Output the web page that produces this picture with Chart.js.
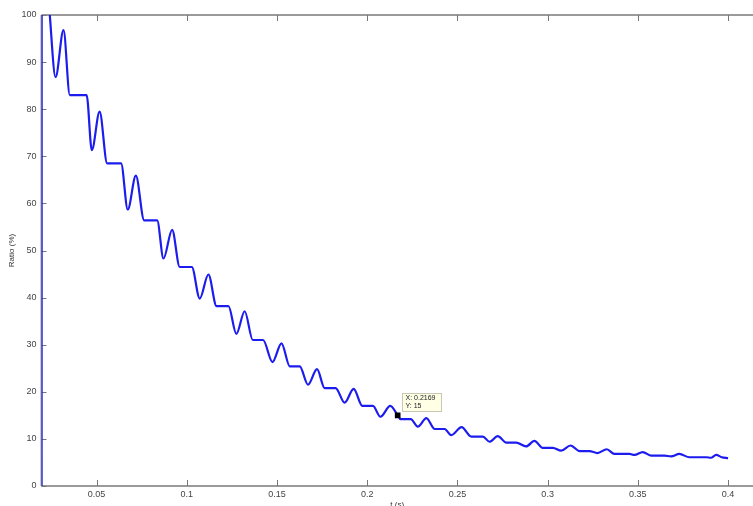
<!DOCTYPE html>
<html>
<head>
<meta charset="utf-8">
<script src="https://cdn.jsdelivr.net/npm/chart.js@4.4.1/dist/chart.umd.min.js"></script>
<style>
    html, body { margin: 0; padding: 0; background: #fff; }
    #wrap { width: 753px; height: 506px; }
</style>
</head>
<body>
<div id="wrap"><canvas id="ratioChart" width="753" height="506"></canvas></div>
<script>
// values: time (s) and ratio (%)
const timeSec = [
    0.0195, 0.0196, 0.0241, 0.0273, 0.0317, 0.0352, 0.0445, 0.0474, 0.0517, 0.0559,
    0.0636, 0.0673, 0.0718, 0.0764, 0.0836, 0.0871, 0.0919, 0.0961, 0.1028, 0.1072,
    0.1120, 0.1165, 0.1231, 0.1275, 0.1321, 0.1366, 0.1423, 0.1475, 0.1525, 0.1571,
    0.1626, 0.1672, 0.1722, 0.1764, 0.1825, 0.1875, 0.1925, 0.1973, 0.2032, 0.2073,
    0.2128, 0.2169, 0.2185, 0.2241, 0.2281, 0.2328, 0.2374, 0.2429, 0.2466, 0.2523,
    0.2577, 0.2641, 0.2678, 0.2724, 0.2771, 0.2826, 0.2881, 0.2927, 0.2973, 0.3029,
    0.3075, 0.3127, 0.3177, 0.3232, 0.3276, 0.3328, 0.3370, 0.3454, 0.3481, 0.3527,
    0.3575, 0.3647, 0.3684, 0.3730, 0.3786, 0.3880, 0.3905, 0.3934, 0.3965, 0.4000
];
const ratioPct = [
    0, 125, 100, 86.8, 96.8, 83.0, 83.0, 71.3, 79.5, 68.5,
    68.5, 58.7, 65.9, 56.4, 56.4, 48.3, 54.4, 46.5, 46.5, 39.8,
    44.9, 38.2, 38.2, 32.3, 37.1, 31.0, 31.0, 26.3, 30.3, 25.4,
    25.4, 21.5, 24.8, 20.8, 20.8, 17.7, 20.6, 17.0, 17.0, 14.7,
    17.0, 15.0, 14.2, 14.2, 12.6, 14.4, 12.1, 12.1, 10.8, 12.5,
    10.5, 10.5, 9.4, 10.6, 9.2, 9.2, 8.4, 9.6, 8.1, 8.1,
    7.5, 8.6, 7.4, 7.4, 7.0, 7.8, 6.8, 6.8, 6.6, 7.2,
    6.45, 6.45, 6.3, 6.8, 6.1, 6.1, 6.0, 6.6, 6.1, 5.9
];

// data cursor
const cursorT = [0.2169];
const cursorY = [15];

const xTickVals = [0.05, 0.1, 0.15, 0.2, 0.25, 0.3, 0.35, 0.4];
const yTickVals = [0, 10, 20, 30, 40, 50, 60, 70, 80, 90, 100];
const xMin = 0.0195, xMax = 0.4116;

const FONT = "'Liberation Sans', Arial, sans-serif";

// axes box with inward ticks, titles and the datatip
const matlabFrame = {
    id: 'matlabFrame',
    beforeDatasetsDraw(chart) {
        const { ctx, chartArea: a, scales } = chart;
        const w = chart.width;
        ctx.save();
        ctx.strokeStyle = '#9a9a9a';
        ctx.lineWidth = 2;
        ctx.beginPath();
        ctx.moveTo(a.left, a.top);
        ctx.lineTo(w, a.top);
        ctx.moveTo(a.left, a.bottom);
        ctx.lineTo(w, a.bottom);
        ctx.moveTo(a.left, a.top);
        ctx.lineTo(a.left, a.bottom);
        ctx.stroke();

        ctx.strokeStyle = '#777';
        ctx.lineWidth = 1;
        ctx.beginPath();
        xTickVals.forEach(v => {
            const x = Math.round(scales.x.getPixelForValue(v)) + 0.5;
            ctx.moveTo(x, a.bottom);
            ctx.lineTo(x, a.bottom - 6);
            ctx.moveTo(x, a.top);
            ctx.lineTo(x, a.top + 6);
        });
        yTickVals.forEach(v => {
            const y = Math.round(scales.y.getPixelForValue(v)) + 0.5;
            ctx.moveTo(a.left, y);
            ctx.lineTo(a.left + 5, y);
        });
        ctx.stroke();
        ctx.restore();
    },
    afterDraw(chart) {
        const { ctx, chartArea: a, scales } = chart;
        ctx.save();
        ctx.fillStyle = '#333';
        ctx.font = '8px ' + FONT;
        ctx.textAlign = 'center';
        ctx.textBaseline = 'top';
        ctx.fillText('t (s)', (a.left + chart.width) / 2, a.bottom + 15);

        ctx.translate(12, (a.top + a.bottom) / 2);
        ctx.rotate(-Math.PI / 2);
        ctx.textBaseline = 'middle';
        ctx.fillText('Ratio (%)', 0, 0);
        ctx.restore();

        // datatip box next to the cursor marker
        const px = scales.x.getPixelForValue(cursorT[0]);
        const py = scales.y.getPixelForValue(cursorY[0]);
        const bx = Math.round(px + 4) + 0.5, by = Math.round(py - 22) + 0.5;
        ctx.save();
        ctx.fillStyle = '#ffffe6';
        ctx.strokeStyle = '#c8c8b4';
        ctx.lineWidth = 1;
        ctx.fillRect(bx, by, 39, 18);
        ctx.strokeRect(bx, by, 39, 18);
        ctx.fillStyle = '#222';
        ctx.font = '7px ' + FONT;
        ctx.textAlign = 'left';
        ctx.textBaseline = 'middle';
        ctx.fillText('X: ' + cursorT[0], bx + 3, by + 5);
        ctx.fillText('Y: ' + cursorY[0], bx + 3, by + 12.5);
        ctx.restore();
    }
};

new Chart(document.getElementById('ratioChart'), {
    type: 'line',
    data: {
        datasets: [
            {
                label: 'Ratio',
                data: timeSec.map((t, i) => ({ x: t, y: ratioPct[i] })),
                borderColor: '#1c1cee',
                borderWidth: 2.2,
                pointRadius: 0,
                fill: false,
                cubicInterpolationMode: 'monotone',
                order: 2
            },
            {
                label: 'Cursor',
                data: cursorT.map((t, i) => ({ x: t, y: cursorY[i] })),
                showLine: false,
                pointStyle: 'rect',
                pointRadius: 4,
                pointBackgroundColor: '#000',
                pointBorderColor: '#000',
                pointBorderWidth: 0,
                order: 1
            }
        ]
    },
    options: {
        responsive: false,
        animation: false,
        devicePixelRatio: 1,
        layout: { padding: { top: 15, right: 0, bottom: 0, left: 0 } },
        plugins: {
            legend: { display: false },
            tooltip: { enabled: false }
        },
        scales: {
            x: {
                type: 'linear',
                min: xMin,
                max: xMax,
                afterBuildTicks: s => { s.ticks = xTickVals.map(v => ({ value: v })); },
                afterFit: s => { s.height = 20; },
                grid: { display: false, drawTicks: false },
                border: { display: false },
                ticks: {
                    color: '#444',
                    font: { family: FONT, size: 9 },
                    padding: 3,
                    maxRotation: 0,
                    autoSkip: false,
                    callback: v => String(v)
                }
            },
            y: {
                min: 0,
                max: 100,
                afterBuildTicks: s => { s.ticks = yTickVals.map(v => ({ value: v })); },
                afterFit: s => { s.width = 41.5; },
                grid: { display: false, drawTicks: false },
                border: { display: false },
                ticks: {
                    color: '#444',
                    font: { family: FONT, size: 9 },
                    padding: 5,
                    autoSkip: false,
                    callback: v => String(v)
                }
            }
        }
    },
    plugins: [matlabFrame]
});
</script>
</body>
</html>
